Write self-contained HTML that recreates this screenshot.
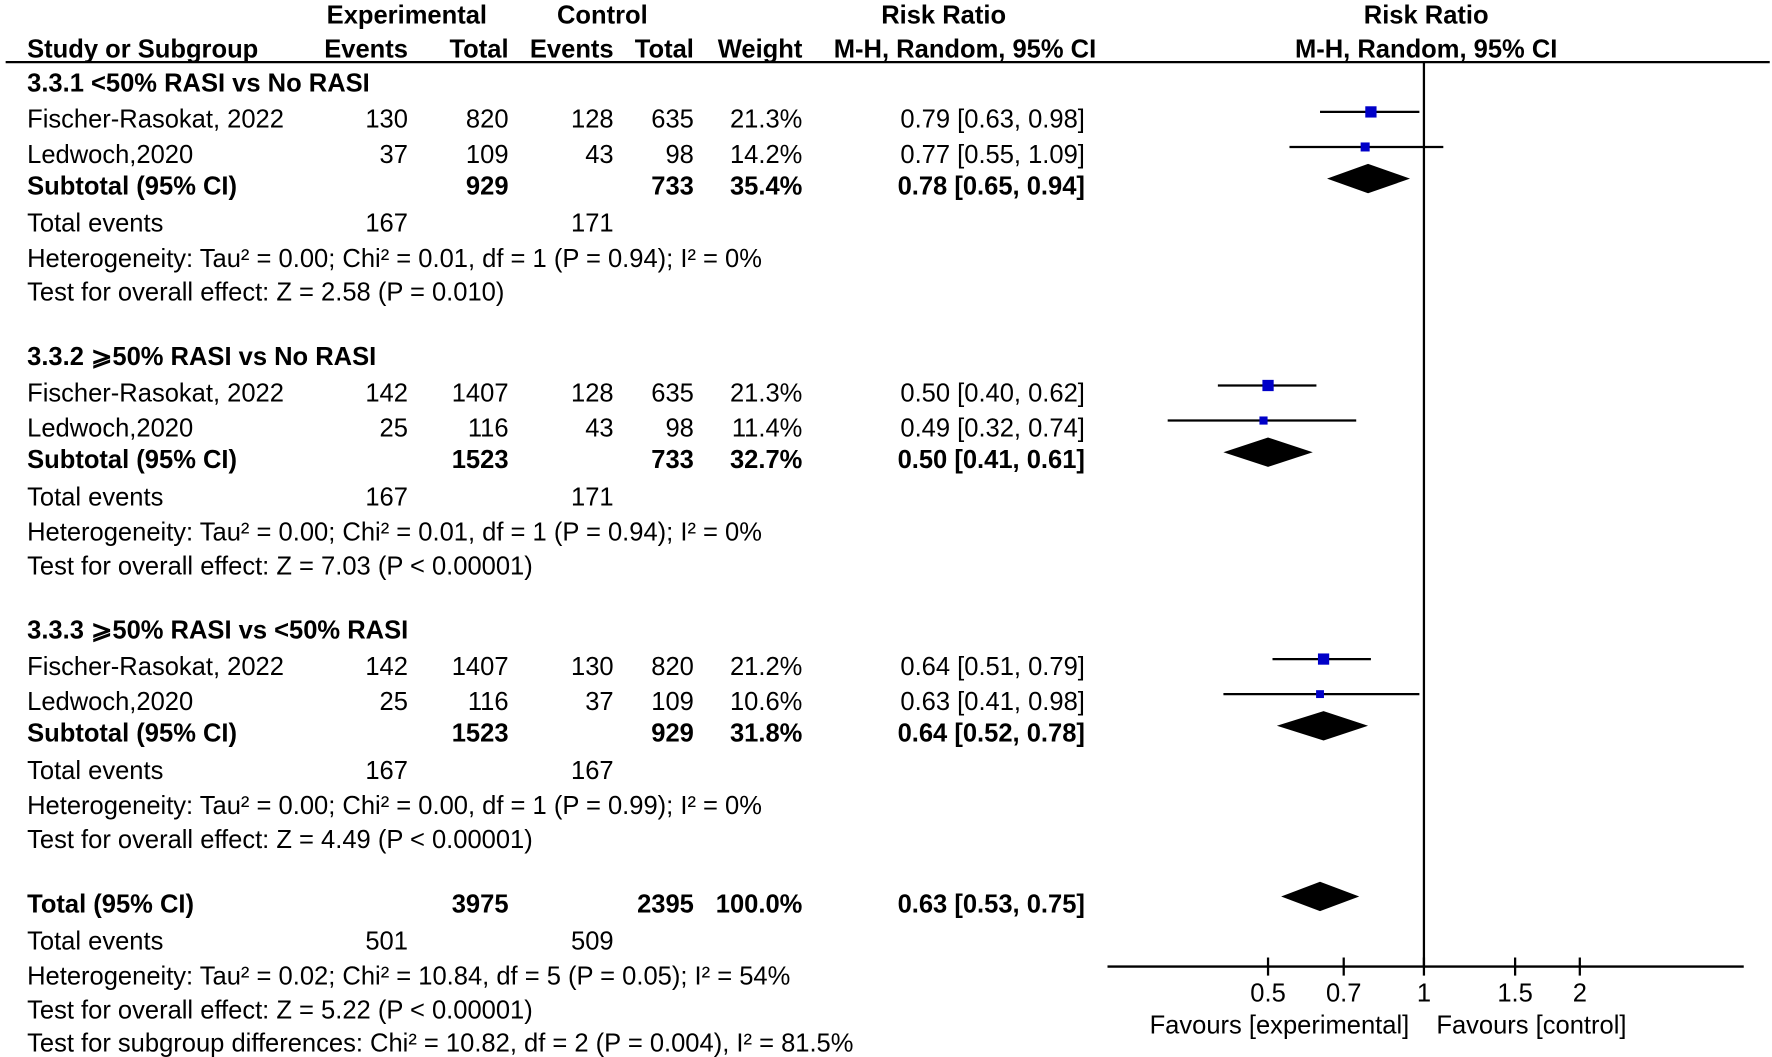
<!DOCTYPE html>
<html><head><meta charset="utf-8"><style>
html,body{margin:0;padding:0;background:#fff;width:1772px;height:1057px;overflow:hidden}
svg{display:block}
text{font-family:"Liberation Sans",Arial,sans-serif;font-size:22.6px;fill:#000}
.b{font-weight:bold}
</style></head><body>
<svg id="chart" width="1772" height="1057" viewBox="0 0 1568 935" preserveAspectRatio="none" xmlns="http://www.w3.org/2000/svg">
<g id="hdr">
<text class="b" x="360" y="21" text-anchor="middle">Experimental</text>
<text class="b" x="533" y="21" text-anchor="middle">Control</text>
<text class="b" x="835" y="21" text-anchor="middle">Risk Ratio</text>
<text class="b" x="1262" y="21" text-anchor="middle">Risk Ratio</text>
<text class="b" x="24" y="51">Study or Subgroup</text>
<text class="b" x="361" y="51" text-anchor="end">Events</text>
<text class="b" x="450" y="51" text-anchor="end">Total</text>
<text class="b" x="543" y="51" text-anchor="end">Events</text>
<text class="b" x="614" y="51" text-anchor="end">Total</text>
<text class="b" x="710" y="51" text-anchor="end">Weight</text>
<text class="b" x="970" y="51" text-anchor="end">M-H, Random, 95% CI</text>
<text class="b" x="1262" y="51" text-anchor="middle">M-H, Random, 95% CI</text>
<line x1="5" y1="55" x2="1566" y2="55" stroke="#000" stroke-width="2"/>
</g>
<g id="rows"></g>
<g id="plot"></g>
</svg>
<script>
const rowLabels=["Fischer-Rasokat, 2022","Ledwoch,2020","Fischer-Rasokat, 2022","Ledwoch,2020","Fischer-Rasokat, 2022","Ledwoch,2020"];
const expEvents=[130,37,142,25,142,25];
const expTotal=[820,109,1407,116,1407,116];
const ctlEvents=[128,43,128,43,130,37];
const ctlTotal=[635,98,635,98,820,109];
const weights=[21.3,14.2,21.3,11.4,21.2,10.6];
const rr=[0.79,0.77,0.50,0.49,0.64,0.63];
const lo=[0.63,0.55,0.40,0.32,0.51,0.41];
const hi=[0.98,1.09,0.62,0.74,0.79,0.98];
const subNames=["3.3.1 <50% RASI vs No RASI","3.3.2 \u2a7e50% RASI vs No RASI","3.3.3 \u2a7e50% RASI vs <50% RASI","Total (95% CI)"];
const subExpTotal=[929,1523,1523,3975];
const subCtlTotal=[733,733,929,2395];
const subWeight=["35.4%","32.7%","31.8%","100.0%"];
const subRR=[0.78,0.50,0.64,0.63];
const subLo=[0.65,0.41,0.52,0.53];
const subHi=[0.94,0.61,0.78,0.75];
const totExp=[167,167,167,501];
const totCtl=[171,171,167,509];
const hetText=["Heterogeneity: Tau\u00b2 = 0.00; Chi\u00b2 = 0.01, df = 1 (P = 0.94); I\u00b2 = 0%","Heterogeneity: Tau\u00b2 = 0.00; Chi\u00b2 = 0.01, df = 1 (P = 0.94); I\u00b2 = 0%","Heterogeneity: Tau\u00b2 = 0.00; Chi\u00b2 = 0.00, df = 1 (P = 0.99); I\u00b2 = 0%","Heterogeneity: Tau\u00b2 = 0.02; Chi\u00b2 = 10.84, df = 5 (P = 0.05); I\u00b2 = 54%"];
const testText=["Test for overall effect: Z = 2.58 (P = 0.010)","Test for overall effect: Z = 7.03 (P < 0.00001)","Test for overall effect: Z = 4.49 (P < 0.00001)","Test for overall effect: Z = 5.22 (P < 0.00001)"];
const ticks=[0.5,0.7,1,1.5,2];
const tickLabels=["0.5","0.7","1","1.5","2"];

const NS="http://www.w3.org/2000/svg";
const X0=1260,K=199;
function xs(v){return X0+K*Math.log(v);}
const rowsG=document.getElementById('rows'),plot=document.getElementById('plot');
function el(p,tag,attrs){const e=document.createElementNS(NS,tag);for(const k in attrs)e.setAttribute(k,attrs[k]);p.appendChild(e);return e;}
function txt(y,x,s,anchor,bold,name){const t=el(rowsG,'text',{x:x,y:y+8,'text-anchor':anchor||'start'});if(bold)t.setAttribute('class','b');t.textContent=s;


return t;}
function f2(v){return v.toFixed(2);}
const groupStart=[73,315,557];
for(let g=0;g<3;g++){
  const y0=groupStart[g];
  txt(y0,24,subNames[g],'start',true,'subgroup-title');
  for(let j=0;j<2;j++){
    const i=g*2+j, y=y0+32+j*31;
    txt(y,24,rowLabels[i],'start',false,'study-name');
    txt(y,361,String(expEvents[i]),'end',false,'exp-events');
    txt(y,450,String(expTotal[i]),'end',false,'exp-total');
    txt(y,543,String(ctlEvents[i]),'end',false,'ctl-events');
    txt(y,614,String(ctlTotal[i]),'end',false,'ctl-total');
    txt(y,710,weights[i].toFixed(1)+'%','end',false,'weight');
    txt(y,960,f2(rr[i])+' ['+f2(lo[i])+', '+f2(hi[i])+']','end',false,'risk-ratio-ci');
    const py=y-6;
    const ci=el(plot,'line',{x1:xs(lo[i]),x2:xs(hi[i]),y1:py,y2:py,stroke:'#000','stroke-width':2});
    
    
    const s=4+weights[i]*0.28;
    const sq=el(plot,'rect',{x:xs(rr[i])-s/2,y:py-s/2,width:s,height:s,fill:'#0000c8'});
    
    
  }
}
const subY=[164,406,648,799];
for(let g=0;g<4;g++){
  const y=subY[g];
  txt(y,24,g<3?'Subtotal (95% CI)':'Total (95% CI)','start',true,'subtotal-label');
  txt(y,450,String(subExpTotal[g]),'end',true,'subtotal-exp-total');
  txt(y,614,String(subCtlTotal[g]),'end',true,'subtotal-ctl-total');
  txt(y,710,subWeight[g],'end',true,'subtotal-weight');
  txt(y,960,f2(subRR[g])+' ['+f2(subLo[g])+', '+f2(subHi[g])+']','end',true,'subtotal-risk-ratio');
  txt(y+33,24,'Total events','start',false,'total-events-label');
  txt(y+33,361,String(totExp[g]),'end',false,'total-events-exp');
  txt(y+33,543,String(totCtl[g]),'end',false,'total-events-ctl');
  txt(y+64,24,hetText[g],'start',false,'heterogeneity-text');
  txt(y+94,24,testText[g],'start',false,'overall-effect-text');
  const py=y-6;
  const d=el(plot,'polygon',{points:[xs(subLo[g])+','+py,xs(subRR[g])+','+(py-13),xs(subHi[g])+','+py,xs(subRR[g])+','+(py+13)].join(' '),fill:'#000'});
  
  
}
txt(922,24,'Test for subgroup differences: Chi\u00b2 = 10.82, df = 2 (P = 0.004), I\u00b2 = 81.5%','start',false,'subgroup-differences-text');

const ax=el(plot,'line',{x1:980,x2:1543,y1:855,y2:855,stroke:'#000','stroke-width':2});


const ref=el(plot,'line',{x1:xs(1),x2:xs(1),y1:55,y2:855,stroke:'#000','stroke-width':2});


ticks.forEach((v,i)=>{
  const tk=el(plot,'line',{x1:xs(v),x2:xs(v),y1:847,y2:863,stroke:'#000','stroke-width':2});
  
  
  const t=el(plot,'text',{x:xs(v),y:886,'text-anchor':'middle'});
  t.textContent=tickLabels[i];
  
  
});
const fe=el(plot,'text',{x:1247,y:914,'text-anchor':'end'});fe.textContent='Favours [experimental]';


const fc=el(plot,'text',{x:1271,y:914});fc.textContent='Favours [control]';


</script>
</body></html>
